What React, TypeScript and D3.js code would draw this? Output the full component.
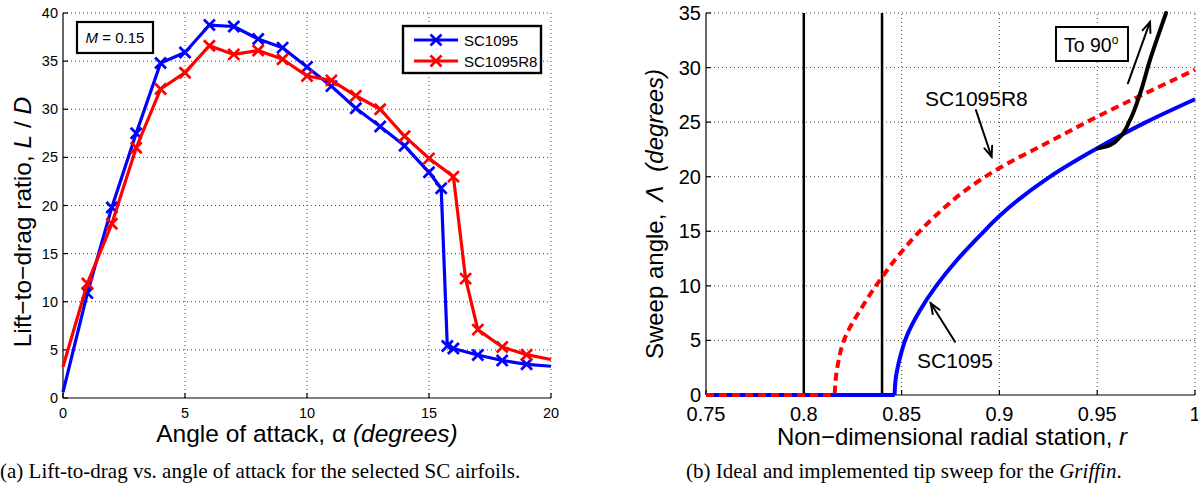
import React from "react";
import * as d3 from "d3";

// ---------- Left chart data: lift-to-drag vs angle of attack ----------
const alphaSC1095 = [0, 1, 2, 3, 4, 5, 6, 7, 8, 9, 10, 11, 12, 13, 14, 15, 15.5, 15.75, 16, 17, 18, 19, 20];
const ldSC1095 = [0.6, 10.9, 19.8, 27.5, 34.8, 35.9, 38.75, 38.6, 37.3, 36.4, 34.4, 32.4, 30.1, 28.2, 26.2, 23.45, 21.8, 5.4, 5.15, 4.47, 3.9, 3.5, 3.3];
const alphaSC1095R8 = [0, 1, 2, 3, 4, 5, 6, 7, 8, 9, 10, 11, 12, 13, 14, 15, 16, 16.5, 17, 18, 19, 20];
const ldSC1095R8 = [3.25, 11.9, 18.1, 26.0, 32.1, 33.8, 36.6, 35.7, 36.1, 35.2, 33.45, 33.0, 31.4, 30.0, 27.2, 24.9, 23.0, 12.4, 7.1, 5.3, 4.5, 4.0];
const leftXTicks = [0, 5, 10, 15, 20];
const leftYTicks = [0, 5, 10, 15, 20, 25, 30, 35, 40];
const legendNames = ["SC1095", "SC1095R8"];

// ---------- Right chart data: tip sweep vs radial station ----------
// flat (zero-sweep) inboard portions
const rFlatSC1095 = [0.75, 0.8464];
const rFlatSC1095R8 = [0.75, 0.8158];
// swept outboard portions
const rSC1095 = [0.8464, 0.847, 0.849, 0.8524, 0.8592, 0.8677, 0.878, 0.89, 0.9, 0.925, 0.95, 0.975, 1.0];
const sweepSC1095 = [0, 1.5, 3.3, 5.3, 7.7, 10.0, 12.3, 14.6, 16.4, 19.9, 22.6, 25.0, 27.1];
const rSC1095R8 = [0.8158, 0.8164, 0.8175, 0.8203, 0.8303, 0.84, 0.8503, 0.866, 0.883, 0.9, 0.9255, 0.95, 0.9765, 1.0];
const sweepSC1095R8 = [0, 1.6, 2.9, 4.9, 8.2, 10.8, 13.2, 16.2, 18.8, 20.8, 23.2, 25.5, 27.8, 29.8];
const rImplemented = [0.9506, 0.9565, 0.9617, 0.9668, 0.9719, 0.977, 0.9821, 0.9852];
const sweepImplemented = [22.6, 22.9, 23.65, 25.2, 27.6, 30.7, 33.4, 35];
const rVerticals = [0.8, 0.84];
const rightXTicks = [0.75, 0.8, 0.85, 0.9, 0.95, 1];
const rightYTicks = [0, 5, 10, 15, 20, 25, 30, 35];

const BLUE = "#0000ff";
const RED = "#ff0000";
const SANS = "'Liberation Sans', Arial, Helvetica, sans-serif";
const SERIF = "'Liberation Serif', 'Times New Roman', serif";

function XMark({ x, y, s, color }: { x: number; y: number; s: number; color: string }) {
  return (
    <path
      d={`M${x - s},${y - s}L${x + s},${y + s}M${x - s},${y + s}L${x + s},${y - s}`}
      stroke={color}
      strokeWidth={2.7}
      fill="none"
    />
  );
}

function Arrow({ x1, y1, x2, y2, w = 2 }: { x1: number; y1: number; x2: number; y2: number; w?: number }) {
  const ang = Math.atan2(y2 - y1, x2 - x1);
  const L = 11;
  const a = 0.38;
  const p1 = [x2 - L * Math.cos(ang - a), y2 - L * Math.sin(ang - a)];
  const p2 = [x2 - L * Math.cos(ang + a), y2 - L * Math.sin(ang + a)];
  return (
    <g stroke="#000" strokeWidth={w} fill="none" strokeLinecap="round">
      <line x1={x1} y1={y1} x2={x2} y2={y2} />
      <path d={`M${p1[0]},${p1[1]}L${x2},${y2}L${p2[0]},${p2[1]}`} />
    </g>
  );
}

function LeftChart() {
  const x = d3.scaleLinear().domain([0, 20]).range([63, 551]);
  const y = d3.scaleLinear().domain([0, 40]).range([398, 13]);
  const line = d3
    .line<[number, number]>()
    .x((d) => x(d[0]))
    .y((d) => y(d[1]));
  const s1: [number, number][] = alphaSC1095.map((a, i) => [a, ldSC1095[i]]);
  const s2: [number, number][] = alphaSC1095R8.map((a, i) => [a, ldSC1095R8[i]]);
  const series = [
    { pts: s1, color: BLUE },
    { pts: s2, color: RED },
  ];
  const [x0, x1] = x.range();
  const [y0, y1] = y.range();
  return (
    <g>
      <g stroke="#444" strokeWidth={1} strokeDasharray="1,3">
        {leftXTicks.filter((t) => t !== 0).map((t) => (
          <line key={"gx" + t} x1={x(t)} x2={x(t)} y1={y0} y2={y1} />
        ))}
        {leftYTicks.filter((t) => t !== 0).map((t) => (
          <line key={"gy" + t} x1={x0} x2={x1} y1={y(t)} y2={y(t)} />
        ))}
      </g>
      <g stroke="#000" strokeWidth={1.2}>
        <line x1={x0} x2={x1} y1={y0} y2={y0} />
        <line x1={x0} x2={x0} y1={y0} y2={y1} />
        {leftXTicks.map((t) => (
          <line key={"tx" + t} x1={x(t)} x2={x(t)} y1={y0} y2={y0 - 5} />
        ))}
        {leftYTicks.map((t) => (
          <line key={"ty" + t} x1={x0} x2={x0 + 5} y1={y(t)} y2={y(t)} />
        ))}
      </g>
      <g fontFamily={SANS} fontSize={14.5} fill="#000">
        {leftXTicks.map((t) => (
          <text key={"lx" + t} x={x(t)} y={418} textAnchor="middle">
            {t}
          </text>
        ))}
        {leftYTicks.map((t) => (
          <text key={"ly" + t} x={58} y={y(t) + 5} textAnchor="end">
            {t}
          </text>
        ))}
      </g>
      {series.map((s, k) => (
        <g key={"s" + k}>
          <path d={line(s.pts) || ""} stroke={s.color} strokeWidth={3.2} fill="none" strokeLinejoin="round" />
          {s.pts.slice(1, -1).map((p, i) => (
            <XMark key={i} x={x(p[0])} y={y(p[1])} s={5.5} color={s.color} />
          ))}
        </g>
      ))}
      <rect x={77} y={22} width={76} height={31} fill="#fff" stroke="#000" strokeWidth={2.2} />
      <text x={115} y={42.5} textAnchor="middle" fontFamily={SANS} fontSize={15}>
        <tspan fontStyle="italic">M</tspan>
        <tspan> = 0.15</tspan>
      </text>
      <rect x={403} y={26} width={138} height={47} fill="#fff" stroke="#000" strokeWidth={2.4} />
      {legendNames.map((n, i) => {
        const ly = 40 + i * 21;
        const c = i === 0 ? BLUE : RED;
        return (
          <g key={n}>
            <line x1={414} x2={458} y1={ly} y2={ly} stroke={c} strokeWidth={3.2} />
            <XMark x={436} y={ly} s={5.5} color={c} />
            <text x={464} y={ly + 5.5} fontFamily={SANS} fontSize={15}>
              {n}
            </text>
          </g>
        );
      })}
      <text x={307} y={442} textAnchor="middle" fontFamily={SANS} fontSize={24.5}>
        Angle of attack, α <tspan fontStyle="italic">(degrees)</tspan>
      </text>
      <text transform="translate(31,222) rotate(-90)" textAnchor="middle" fontFamily={SANS} fontSize={24.5}>
        Lift−to−drag ratio, <tspan fontStyle="italic">L</tspan> / <tspan fontStyle="italic">D</tspan>
      </text>
      <text x={0} y={478} fontFamily={SERIF} fontSize={21}>
        (a) Lift-to-drag vs. angle of attack for the selected SC airfoils.
      </text>
    </g>
  );
}

function RightChart() {
  const x = d3.scaleLinear().domain([0.75, 1]).range([706, 1195]);
  const y = d3.scaleLinear().domain([0, 35]).range([395, 13]);
  const rise = d3
    .line<[number, number]>()
    .x((d) => x(d[0]))
    .y((d) => y(d[1]))
    .curve(d3.curveMonotoneY);
  const flat = (rs: number[]) => `M${x(rs[0])},${y(0)}L${x(rs[1])},${y(0)}`;
  const blue: [number, number][] = rSC1095.map((r, i) => [r, sweepSC1095[i]]);
  const red: [number, number][] = rSC1095R8.map((r, i) => [r, sweepSC1095R8[i]]);
  const impl: [number, number][] = rImplemented.map((r, i) => [r, sweepImplemented[i]]);
  const [x0, x1] = x.range();
  const [y0, y1] = y.range();
  return (
    <g>
      <g stroke="#444" strokeWidth={1} strokeDasharray="1,3">
        {rightXTicks.filter((t) => t !== 0.75).map((t) => (
          <line key={"gx" + t} x1={x(t)} x2={x(t)} y1={y0} y2={y1} />
        ))}
        {rightYTicks.filter((t) => t !== 0).map((t) => (
          <line key={"gy" + t} x1={x0} x2={x1} y1={y(t)} y2={y(t)} />
        ))}
      </g>
      <g stroke="#000" strokeWidth={1.2}>
        <line x1={x0} x2={x1} y1={y0} y2={y0} />
        <line x1={x0} x2={x0} y1={y0} y2={y1} />
        {rightXTicks.map((t) => (
          <line key={"tx" + t} x1={x(t)} x2={x(t)} y1={y0} y2={y0 - 5} />
        ))}
        {rightYTicks.map((t) => (
          <line key={"ty" + t} x1={x0} x2={x0 + 5} y1={y(t)} y2={y(t)} />
        ))}
      </g>
      <g fontFamily={SANS} fontSize={20} fill="#000">
        {rightXTicks.map((t) => (
          <text key={"lx" + t} x={x(t)} y={421} textAnchor="middle">
            {String(t)}
          </text>
        ))}
        {rightYTicks.map((t) => (
          <text key={"ly" + t} x={701} y={y(t) + 7} textAnchor="end">
            {t}
          </text>
        ))}
      </g>
      {rVerticals.map((r) => (
        <line key={"v" + r} x1={x(r)} x2={x(r)} y1={y(0)} y2={y(35)} stroke="#000" strokeWidth={2.5} />
      ))}
      <path d={flat(rFlatSC1095) + (rise(blue) || "").replace(/^M/, "L")} stroke={BLUE} strokeWidth={4} fill="none" />
      <path
        d={flat(rFlatSC1095R8) + (rise(red) || "").replace(/^M/, "L")}
        stroke={RED}
        strokeWidth={4}
        fill="none"
        strokeDasharray="8,5"
      />
      <path d={rise(impl) || ""} stroke="#000" strokeWidth={4} fill="none" strokeLinecap="round" />
      <g fontFamily={SANS} fontSize={21}>
        <text x={x(0.862)} y={y(27.2) + 7.5}>SC1095R8</text>
        <text x={x(0.8579)} y={y(3.2) + 7.5}>SC1095</text>
      </g>
      <Arrow x1={x(0.888)} y1={y(26.1)} x2={x(0.896)} y2={y(21.83)} />
      <Arrow x1={x(0.8773)} y1={y(4.88)} x2={x(0.8649)} y2={y(8.4)} />
      <Arrow x1={x(0.9657)} y1={y(28.56)} x2={x(0.977)} y2={y(34.18)} />
      <rect x={1056} y={27} width={72} height={34} fill="#fff" stroke="#000" strokeWidth={2} />
      <text x={1064} y={52} fontFamily={SANS} fontSize={19.5}>
        To 90<tspan fontSize={12} dy={-8}>o</tspan>
      </text>
      <text x={952} y={445} textAnchor="middle" fontFamily={SANS} fontSize={24}>
        Non−dimensional radial station, <tspan fontStyle="italic">r</tspan>
      </text>
      <text transform="translate(663,214) rotate(-90)" textAnchor="middle" fontFamily={SANS} fontSize={24}>
        Sweep angle,<tspan dx={12} fontStyle="italic">Λ</tspan>
        <tspan dx={14} fontStyle="italic">(degrees)</tspan>
      </text>
      <text x={686} y={478} fontFamily={SERIF} fontSize={21}>
        (b) Ideal and implemented tip sweep for the <tspan fontStyle="italic">Griffin</tspan>.
      </text>
    </g>
  );
}

export default function App() {
  return (
    <div style={{ position: "absolute", left: 0, top: 0, width: 1198, height: 489, background: "#fff" }}>
      <svg width={1198} height={489} viewBox="0 0 1198 489" style={{ display: "block" }}>
        <rect width={1198} height={489} fill="#fff" />
        <LeftChart />
        <RightChart />
      </svg>
    </div>
  );
}
